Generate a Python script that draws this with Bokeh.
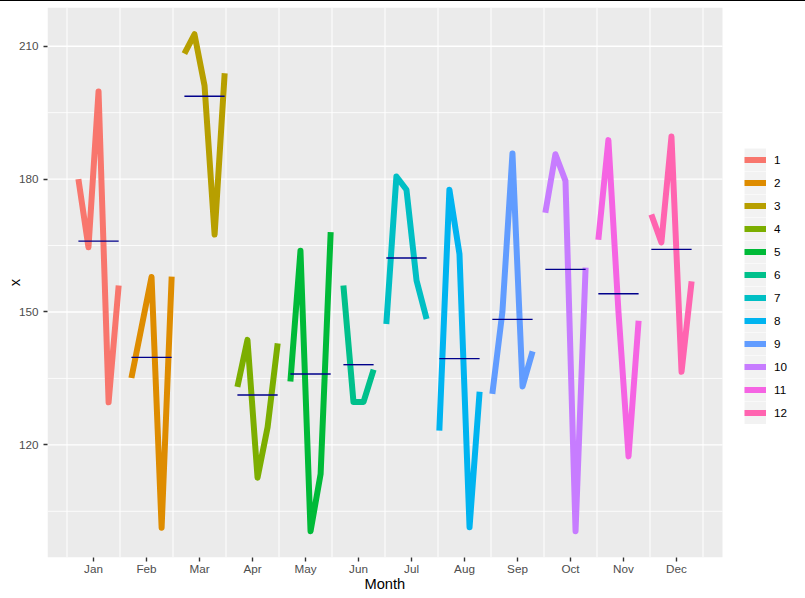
import numpy as np
from bokeh.plotting import figure
from bokeh.models import Range1d, FixedTicker, Legend, LegendItem, Title
from bokeh.embed import file_html
from bokeh.resources import INLINE

# ---------------- data ----------------
months = ["Jan", "Feb", "Mar", "Apr", "May", "Jun",
          "Jul", "Aug", "Sep", "Oct", "Nov", "Dec"]
series_labels = [str(i) for i in range(1, 13)]

jan = [180.0, 164.6, 199.8, 129.6, 156.0]
feb = [135.1, 146.5, 157.9, 101.3, 158.0]
mar = [208.3, 212.7, 201.1, 167.5, 203.9]
apr = [133.1, 143.7, 112.6, 124.0, 142.9]
may = [134.3, 163.8, 100.5, 113.4, 168.0]
jun = [156.0, 129.7, 129.7, 137.0]
jul = [147.3, 180.6, 177.6, 157.1, 148.4]
aug = [123.2, 177.6, 163.1, 101.4, 132.0]
sep = [131.5, 150.0, 185.8, 133.2, 141.1]
oct_ = [172.4, 185.6, 179.6, 100.5, 160.0]
nov = [166.3, 188.8, 150.0, 117.4, 148.0]
dec = [172.0, 165.7, 189.6, 136.5, 156.9]
values = [jan, feb, mar, apr, may, jun, jul, aug, sep, oct_, nov, dec]

# year index of the first observation of each month (series starts in July)
first_year = [1, 1, 1, 1, 1, 1, 0, 0, 0, 0, 0, 0]

y_ticks = [120, 150, 180, 210]
y_minor = [105, 135, 165, 195]

colors = ["#F8766D", "#DE8C00", "#B79F00", "#7CAE00", "#00BA38", "#00C08B",
          "#00BFC4", "#00B4F0", "#619CFF", "#C77CFF", "#F564E3", "#FF64B0"]

YEAR_STEP = 0.19
MID_YEAR = 2.5
FONT = "Liberation Sans"

# panel (data) limits; the frame extends further right to host the legend
X_LO, X_HI = 0.132, 12.868
Y_LO, Y_HI = 94.57, 218.74
PX_PER_X = 53.0
FRAME_W = 805 - 47

# ---------------- figure ----------------
p = figure(width=805, height=597,
           x_range=Range1d(X_LO, X_LO + FRAME_W / PX_PER_X),
           y_range=Range1d(Y_LO, Y_HI),
           output_backend="svg", toolbar_location=None,
           min_border_left=47, min_border_right=0,
           min_border_top=6, min_border_bottom=41,
           background_fill_color="white", border_fill_color="white",
           outline_line_color=None)
p.styles = {"border-top": "1px solid black"}

# panel background and grid (drawn as glyphs so they stop at the panel edge)
p.quad(left=[X_LO], right=[X_HI], bottom=[Y_LO], top=[Y_HI],
       fill_color="#EBEBEB", line_color=None)
bounds = [i + 0.5 for i in range(13)]
p.segment(x0=bounds, x1=bounds, y0=[Y_LO] * len(bounds), y1=[Y_HI] * len(bounds),
          line_color="white", line_width=1.0)
p.segment(x0=[X_LO] * len(y_minor), x1=[X_HI] * len(y_minor), y0=y_minor, y1=y_minor,
          line_color="white", line_width=0.8)
p.segment(x0=[X_LO] * len(y_ticks), x1=[X_HI] * len(y_ticks), y0=y_ticks, y1=y_ticks,
          line_color="white", line_width=1.4)

# legend key background: a wide line glyph used only for the legend swatch
bg = p.line(x=np.array([np.nan]), y=np.array([np.nan]),
            line_color="#F2F2F2", line_width=23, line_cap="butt")

line_renderers = []
mean_x0, mean_x1, mean_y = [], [], []
for m, (vals, fy) in enumerate(zip(values, first_year)):
    yrs = np.arange(fy, fy + len(vals))
    xs = (m + 1) + (yrs - MID_YEAR) * YEAR_STEP
    r = p.line(xs, vals, line_color=colors[m], line_width=6,
               line_join="round", line_cap="butt")
    line_renderers.append(r)
    mean_x0.append(xs[0])
    mean_x1.append(xs[-1])
    mean_y.append(float(np.mean(vals)))

p.segment(x0=mean_x0, x1=mean_x1, y0=mean_y, y1=mean_y,
          line_color="#00008B", line_width=1.4)

# ---------------- axes ----------------
p.xaxis.ticker = FixedTicker(ticks=list(range(1, 13)))
p.xaxis.major_label_overrides = {i + 1: mth for i, mth in enumerate(months)}
p.yaxis.ticker = FixedTicker(ticks=y_ticks)
p.xgrid.visible = False
p.ygrid.visible = False

for ax in (p.xaxis[0], p.yaxis[0]):
    ax.axis_line_color = None
    ax.minor_tick_line_color = None
    ax.major_tick_in = 0
    ax.major_tick_out = 4
    ax.major_tick_line_color = "#333333"
    ax.major_tick_line_width = 1.4
    ax.major_label_text_font = FONT
    ax.major_label_text_font_size = "11.7px"
    ax.major_label_text_color = "#4D4D4D"
    ax.axis_label_text_font = FONT
    ax.axis_label_text_font_size = "14.67px"
    ax.axis_label_text_font_style = "normal"
    ax.axis_label_text_color = "black"

p.yaxis.axis_label = "x"
p.xaxis.major_label_standoff = 0
p.yaxis.major_label_standoff = 5
p.yaxis.axis_label_standoff = -7

# x-axis title centred under the panel (not under the wider frame)
x_title = Title(text="Month", align="left", offset=317, vertical_align="top",
                standoff=-4, text_font=FONT, text_font_size="14.67px",
                text_font_style="normal", text_color="black")
p.add_layout(x_title, "below")

# ---------------- legend ----------------
items = [LegendItem(label=lab, renderers=[bg, r])
         for lab, r in zip(series_labels, line_renderers)]
legend = Legend(items=items, location=(697, 133), orientation="vertical",
                glyph_width=22, glyph_height=23, label_height=23,
                spacing=0, padding=0, margin=0, label_standoff=8,
                border_line_color=None, background_fill_alpha=0,
                label_text_font=FONT, label_text_font_size="11.7px",
                label_text_color="black")
p.add_layout(legend)

open("out.html", "w").write(file_html(p, INLINE))
